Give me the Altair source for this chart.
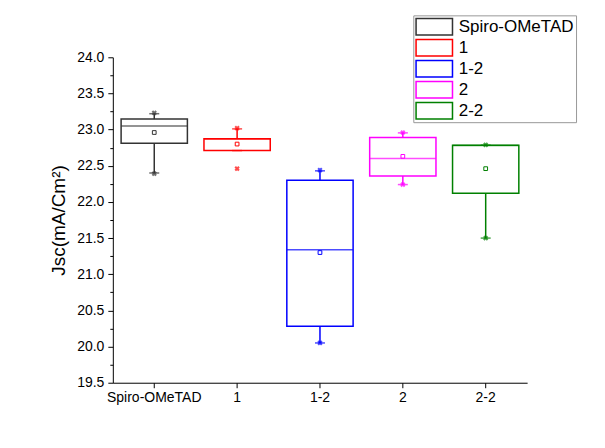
import altair as alt
import pandas as pd

# ---- data ----
groups = ["Spiro-OMeTAD", "1", "1-2", "2", "2-2"]
colors = ["#333333", "#ff0000", "#0000ff", "#ff00ff", "#008000"]
q1 = [22.81, 22.71, 20.28, 22.36, 22.12]
median = [23.05, 22.87, 21.34, 22.60, 22.78]
q3 = [23.145, 22.875, 22.30, 22.89, 22.785]
whisker_lo = [22.40, 22.71, 20.05, 22.24, 21.50]
whisker_hi = [23.22, 23.01, 22.43, 22.955, 22.785]
mean = [22.96, 22.80, 21.30, 22.63, 22.46]
min_v = [22.39, 22.46, 20.05, 22.24, 21.50]
max_v = [23.23, 23.02, 22.44, 22.96, 22.79]

y_ticks = [19.5, 19.75, 20.0, 20.25, 20.5, 20.75, 21.0, 21.25, 21.5, 21.75,
           22.0, 22.25, 22.5, 22.75, 23.0, 23.25, 23.5, 23.75, 24.0]

df = pd.DataFrame({
    "group": groups, "q1": q1, "median": median, "q3": q3,
    "wlo": whisker_lo, "whi": whisker_hi, "mean": mean,
    "vmin": min_v, "vmax": max_v,
})

FONT = "Liberation Sans"

x_enc = alt.X(
    "group:N", sort=groups,
    scale=alt.Scale(paddingInner=0.2, paddingOuter=0.1),
    axis=alt.Axis(title=None, labelAngle=0, tickSize=5, labelPadding=3,
                  labelFontSize=14, domainColor="black", tickColor="black",
                  labelColor="black", labelFont=FONT),
)
y_scale = alt.Scale(domain=[19.5, 24.0], nice=False, zero=False)
y_axis = alt.Axis(
    title="Jsc(mA/Cm²)", values=y_ticks,
    labelExpr="(datum.value * 2) % 1 === 0 ? format(datum.value, '.1f') : ''",
    labelOverlap=False, labelFontSize=14, labelFont=FONT, labelColor="black",
    tickSize={"condition": {"test": "(datum.value * 2) % 1 === 0", "value": 5}, "value": 3},
    tickColor="black", domainColor="black", grid=False,
    titleFont=FONT, titleFontSize=19, titleFontWeight="normal", titleColor="black",
    titlePadding=8, labelPadding=4,
)


def Y(field):
    return alt.Y(field, scale=y_scale, axis=y_axis)


# hollow rectangle swatch: outer ring clockwise, inner counter-clockwise (hole)
SWATCH = ("M-1,-0.95L3,-0.95L3,0.95L-1,0.95Z"
          "M-0.84,-0.79L-0.84,0.79L2.84,0.79L2.84,-0.79Z")

color_scale = alt.Scale(domain=groups, range=colors)
legend = alt.Legend(
    title=None, orient="none", legendX=301, legendY=-42,
    symbolType=SWATCH, symbolSize=361, symbolStrokeWidth=0,
    symbolOpacity=1,
    labelOffset=24.5, labelFontSize=17, labelFont=FONT, labelColor="black",
    rowPadding=2, padding=2, strokeColor="#999999", fillColor="white",
    labelLimit=300,
)
col = alt.Color("group:N", scale=color_scale, legend=legend)

base = alt.Chart(df).encode(x=x_enc)

mean_pt = base.mark_point(shape="square", size=14, filled=False, strokeWidth=1,
                          opacity=1).encode(y=Y("mean:Q"), color=col)
boxes = base.mark_rect(filled=False, strokeWidth=1.5).encode(
    y=Y("q1:Q"), y2="q3:Q", color=col)
upper = base.mark_rule(strokeWidth=1.5).encode(
    y=Y("q3:Q"), y2="whi:Q", color=col)
lower = base.mark_rule(strokeWidth=1.5).encode(
    y=Y("wlo:Q"), y2="q1:Q", color=col)
cap_hi = base.mark_tick(size=10, thickness=1.5, orient="horizontal").encode(
    y=Y("whi:Q"), color=col)
cap_lo = base.mark_tick(size=10, thickness=1.5, orient="horizontal").encode(
    y=Y("wlo:Q"), color=col)
med = base.mark_tick(size=66, thickness=1.5, orient="horizontal").encode(
    y=Y("median:Q"), color=col)
max_pt = base.mark_point(shape="cross", angle=45, size=28, filled=True).encode(
    y=Y("vmax:Q"), color=col)
min_pt = base.mark_point(shape="cross", angle=45, size=28, filled=True).encode(
    y=Y("vmin:Q"), color=col)

chart = alt.layer(
    mean_pt, boxes, upper, lower, cap_hi, cap_lo, med, max_pt, min_pt
).properties(
    width=415, height=326,
    autosize=alt.AutoSizeParams(type="none"),
    padding={"left": 105, "top": 49, "right": 70, "bottom": 57},
    background="white",
).configure_view(stroke=None).configure_axisY(labelOverlap=False)

chart.save("out.html", embed_options={"renderer": "svg", "actions": False})
